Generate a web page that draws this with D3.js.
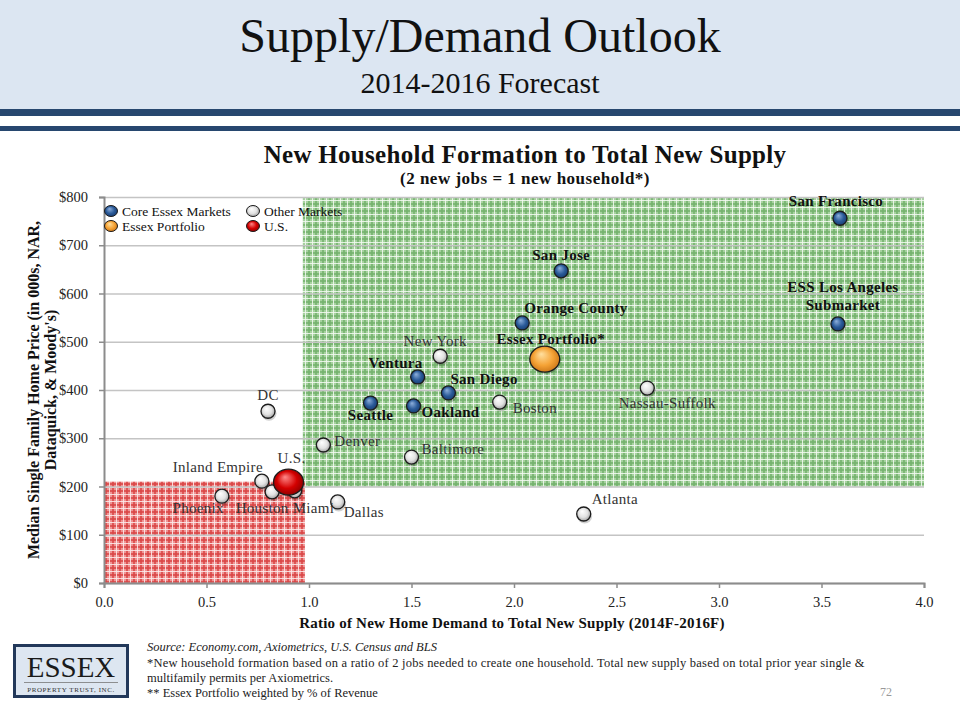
<!DOCTYPE html>
<html>
<head>
<meta charset="utf-8">
<script src="https://cdn.jsdelivr.net/npm/d3@7"></script>
<style>
  html, body { margin: 0; padding: 0; background: #ffffff; }
  svg { display: block; }
</style>
</head>
<body>
<svg id="chart" width="960" height="720"></svg>
<script>
// ---------------- DATA ----------------
const markets = ["San Francisco","San Jose","Orange County","ESS Los Angeles Submarket","Essex Portfolio*",
  "New York","Ventura","San Diego","Seattle","Oakland","Boston","Nassau-Suffolk","DC","Denver","Baltimore",
  "Inland Empire","Phoenix","Houston","Miami","Dallas","Atlanta","U.S."];
const ratio = [3.59, 2.23, 2.04, 3.58, 2.15, 1.64, 1.53, 1.68, 1.30, 1.51, 1.93, 2.65, 0.80, 1.07, 1.50,
  0.77, 0.575, 0.82, 0.93, 1.14, 2.34, 0.90];
const price = [756, 647, 539, 537, 464, 470, 427, 394, 373, 367, 375, 404, 356, 286, 261,
  211, 180, 189, 191, 168, 143, 209];
const group = ["core","core","core","core","portfolio","other","core","core","core","core","other","other",
  "other","other","other","other","other","other","other","other","other","us"];
const yTicks = [0,100,200,300,400,500,600,700,800];
const xTicks = [0,0.5,1,1.5,2,2.5,3,3.5,4];
const legendItems = [["core","Core Essex Markets"],["other","Other Markets"],["portfolio","Essex Portfolio"],["us","U.S."]];
// shaded zones: [x0, x1, y0, y1] in data units
const greenZone = [0.97, 4.0, 200, 800];
const redZone = [0, 0.98, 0, 210];

// ---------------- LAYOUT (label placement, px offsets from point) ----------------
const labelLayout = {
  "San Francisco": {dx:-4, dy:-12, a:"middle"},
  "San Jose": {dx:0, dy:-11, a:"middle"},
  "Orange County": {dx:2, dy:-10, a:"start"},
  "ESS Los Angeles Submarket": {dx:5, dy:-32, a:"middle", lines:["ESS Los Angeles","Submarket"]},
  "Essex Portfolio*": {dx:6, dy:-15, a:"middle"},
  "New York": {dx:-5, dy:-10, a:"middle"},
  "Ventura": {dx:5, dy:-9, a:"end"},
  "San Diego": {dx:2, dy:-9, a:"start"},
  "Seattle": {dx:0, dy:17, a:"middle"},
  "Oakland": {dx:8, dy:11, a:"start"},
  "Boston": {dx:13, dy:11, a:"start"},
  "Nassau-Suffolk": {dx:20, dy:20, a:"middle"},
  "DC": {dx:0, dy:-11, a:"middle"},
  "Denver": {dx:11, dy:1, a:"start"},
  "Baltimore": {dx:10, dy:-3, a:"start"},
  "Inland Empire": {dx:1, dy:-9, a:"end"},
  "Phoenix": {dx:2, dy:17, a:"end"},
  "Houston": {dx:-10, dy:21, a:"middle"},
  "Miami": {dx:-2, dy:22, a:"start"},
  "Dallas": {dx:6, dy:15, a:"start"},
  "Atlanta": {dx:8, dy:-10, a:"start"},
  "U.S.": {dx:3, dy:-19, a:"middle"}
};

const serif = "'Liberation Serif', 'DejaVu Serif', serif";
const svg = d3.select("#chart");
const defs = svg.append("defs");

// ---------------- HEADER ----------------
svg.append("rect").attr("x",0).attr("y",0).attr("width",960).attr("height",109).attr("fill","#dce6f2");
svg.append("rect").attr("x",0).attr("y",109).attr("width",960).attr("height",7).attr("fill","#27476f");
svg.append("rect").attr("x",0).attr("y",126).attr("width",960).attr("height",5).attr("fill","#27476f");
svg.append("text").attr("x",480).attr("y",52).attr("text-anchor","middle")
  .attr("font-family",serif).attr("font-size",48).attr("fill","#111").text("Supply/Demand Outlook");
svg.append("text").attr("x",480).attr("y",93).attr("text-anchor","middle")
  .attr("font-family",serif).attr("font-size",30).attr("fill","#111").text("2014-2016 Forecast");

// Chart titles
svg.append("text").attr("x",525).attr("y",163).attr("text-anchor","middle")
  .attr("font-family",serif).attr("font-weight","bold").attr("font-size",25).attr("letter-spacing",0.3).attr("fill","#111")
  .text("New Household Formation to Total New Supply");
svg.append("text").attr("x",525).attr("y",184).attr("text-anchor","middle")
  .attr("font-family",serif).attr("font-weight","bold").attr("font-size",17).attr("letter-spacing",0.5).attr("fill","#111")
  .text("(2 new jobs = 1 new household*)");

// ---------------- SCALES ----------------
const x = d3.scaleLinear().domain([0,4]).range([104,924]);
const y = d3.scaleLinear().domain([0,800]).range([583,197]);

// ---------------- PATTERNS ----------------
function plaid(id, base, dark, light) {
  const p = defs.append("pattern").attr("id",id).attr("patternUnits","userSpaceOnUse")
    .attr("width",7).attr("height",7);
  p.append("rect").attr("width",7).attr("height",7).attr("fill",base);
  p.append("rect").attr("x",0).attr("y",0).attr("width",2).attr("height",7).attr("fill",dark).attr("opacity",0.8);
  p.append("rect").attr("x",0).attr("y",0).attr("width",7).attr("height",2).attr("fill",dark).attr("opacity",0.8);
  p.append("rect").attr("x",4).attr("y",0).attr("width",1).attr("height",7).attr("fill",light).attr("opacity",0.85);
  p.append("rect").attr("x",0).attr("y",4).attr("width",7).attr("height",1).attr("fill",light).attr("opacity",0.85);
}
plaid("greenPlaid", "#a6d29f", "#74b26d", "#f4faf2");
plaid("redPlaid", "#ef9494", "#d94646", "#fcecec");

// Gradients for markers
const grads = {
  core: ["#8fb0dc","#2a5a98","#123467"],
  other: ["#ffffff","#e2e2e2","#8e8e8e"],
  portfolio: ["#ffe0a0","#f5a336","#c06a10"],
  us: ["#ff8a8a","#d40000","#7a0000"]
};
Object.entries(grads).forEach(([k,c]) => {
  const g = defs.append("radialGradient").attr("id","g_"+k).attr("cx","50%").attr("cy","50%").attr("r","60%")
    .attr("fx","38%").attr("fy","30%");
  g.append("stop").attr("offset","0%").attr("stop-color",c[0]);
  g.append("stop").attr("offset","55%").attr("stop-color",c[1]);
  g.append("stop").attr("offset","100%").attr("stop-color",c[2]);
});

// ---------------- ZONES ----------------
svg.append("rect").attr("x",x(greenZone[0])).attr("y",y(greenZone[3]))
  .attr("width",x(greenZone[1])-x(greenZone[0])).attr("height",y(greenZone[2])-y(greenZone[3]))
  .attr("fill","url(#greenPlaid)");
svg.append("rect").attr("x",x(redZone[0])).attr("y",y(redZone[3]))
  .attr("width",x(redZone[1])-x(redZone[0])).attr("height",y(redZone[2])-y(redZone[3]))
  .attr("fill","url(#redPlaid)");

// ---------------- GRIDLINES & AXES ----------------
const grid = svg.append("g").attr("transform",`translate(${x(0)},0)`)
  .call(d3.axisLeft(y).tickValues(yTicks).tickSize(-(x(4)-x(0))).tickFormat(""));
grid.select(".domain").remove();
grid.selectAll("line").attr("stroke","#c4c4c4").attr("stroke-width",1.5);

const yAxis = svg.append("g").attr("transform",`translate(${x(0)},0)`)
  .call(d3.axisLeft(y).tickValues(yTicks).tickSize(5).tickPadding(11).tickFormat(d => "$" + d));
yAxis.select(".domain").attr("stroke","#8c8c8c").attr("stroke-width",2);
yAxis.selectAll("line").attr("stroke","#8c8c8c").attr("stroke-width",1.5);
yAxis.selectAll("text").attr("font-family",serif).attr("font-size",14.5).attr("fill","#222");

const xAxis = svg.append("g").attr("transform",`translate(0,${y(0)})`)
  .call(d3.axisBottom(x).tickValues(xTicks).tickSize(5).tickPadding(9).tickFormat(d3.format(".1f")));
xAxis.select(".domain").attr("stroke","#8c8c8c").attr("stroke-width",2);
xAxis.selectAll("line").attr("stroke","#8c8c8c").attr("stroke-width",1.5);
xAxis.selectAll("text").attr("font-family",serif).attr("font-size",14.5).attr("fill","#222");

// Axis titles
svg.append("text").attr("x",512).attr("y",628).attr("text-anchor","middle")
  .attr("font-family",serif).attr("font-weight","bold").attr("font-size",15).attr("letter-spacing",0.2).attr("fill","#111")
  .text("Ratio of New Home Demand to Total New Supply (2014F-2016F)");
const yt = svg.append("text").attr("transform","translate(39,390) rotate(-90)").attr("text-anchor","middle")
  .attr("font-family",serif).attr("font-weight","bold").attr("font-size",16).attr("fill","#111");
yt.append("tspan").attr("x",0).attr("y",0).text("Median Single Family Home Price (in 000s, NAR,");
yt.append("tspan").attr("x",0).attr("y",17).text("Dataquick, & Moody's)");

// ---------------- POINTS ----------------
const pts = markets.map((m,i) => ({name:m, rx:ratio[i], p:price[i], g:group[i]}));
const big = g => g === "portfolio" || g === "us";
const order = pts.slice().sort((a,b) => (big(a.g)?1:0) - (big(b.g)?1:0));

svg.append("g").selectAll("ellipse").data(order).join("ellipse")
  .attr("cx", d => x(d.rx)+1).attr("cy", d => y(d.p)+2)
  .attr("rx", d => big(d.g) ? 15 : 7.5).attr("ry", d => big(d.g) ? 13 : 7.5)
  .attr("fill","#000").attr("opacity",0.18);
svg.append("g").selectAll("ellipse").data(order).join("ellipse")
  .attr("cx", d => x(d.rx)).attr("cy", d => y(d.p))
  .attr("rx", d => big(d.g) ? 15 : 7).attr("ry", d => big(d.g) ? 13 : 7)
  .attr("fill", d => `url(#g_${d.g})`).attr("stroke","#1c1c1c").attr("stroke-width",1.3);

// ---------------- LABELS ----------------
const labG = svg.append("g").attr("font-family",serif).attr("font-size",15).attr("fill","#111");
pts.forEach(d => {
  const L = labelLayout[d.name];
  const bold = d.g === "core" || d.g === "portfolio";
  const t = labG.append("text").attr("text-anchor",L.a)
    .attr("font-weight", bold ? "bold" : "normal")
    .attr("letter-spacing", 0.3)
    .attr("fill", bold ? "#111" : "#333");
  const lines = L.lines || [d.name];
  lines.forEach((ln,k) => {
    t.append("tspan").attr("x", x(d.rx)+L.dx).attr("y", y(d.p)+L.dy + k*18).text(ln);
  });
});

// ---------------- LEGEND ----------------
const lg = svg.append("g").attr("font-family",serif).attr("font-size",13.5).attr("fill","#111");
legendItems.forEach(([k,label],i) => {
  const col = i % 2, row = Math.floor(i/2);
  const lx = 111 + col*142, ly = 211 + row*15;
  lg.append("ellipse").attr("cx",lx).attr("cy",ly).attr("rx",6.5).attr("ry",5.5)
    .attr("fill",`url(#g_${k})`).attr("stroke","#1c1c1c").attr("stroke-width",1);
  lg.append("text").attr("x",lx+11).attr("y",ly+4.5).text(label);
});

// ---------------- FOOTER ----------------
svg.append("rect").attr("x",14.5).attr("y",645.5).attr("width",113).attr("height",51)
  .attr("fill","#dde6f1").attr("stroke","#22385a").attr("stroke-width",3);
svg.append("text").attr("x",71).attr("y",677).attr("text-anchor","middle")
  .attr("font-family",serif).attr("font-size",29).attr("fill","#1a1a1a").text("ESSEX");
svg.append("line").attr("x1",24).attr("x2",118).attr("y1",682.5).attr("y2",682.5)
  .attr("stroke","#777").attr("stroke-width",0.8);
svg.append("text").attr("x",71).attr("y",692).attr("text-anchor","middle")
  .attr("font-family",serif).attr("font-size",7).attr("letter-spacing",0.6).attr("fill","#333")
  .text("PROPERTY TRUST, INC.");

const ft = svg.append("g").attr("font-family",serif).attr("font-size",12.5).attr("fill","#222");
ft.append("text").attr("x",147).attr("y",651).attr("font-style","italic")
  .text("Source: Economy.com, Axiometrics, U.S. Census and BLS");
ft.append("text").attr("x",147).attr("y",667).attr("letter-spacing",0.22)
  .text("*New household formation based on a ratio of 2 jobs needed to create one household.  Total new supply based on total prior year single &");
ft.append("text").attr("x",147).attr("y",682).text("multifamily permits per Axiometrics.");
ft.append("text").attr("x",147).attr("y",697).text("** Essex Portfolio weighted by % of Revenue");
svg.append("text").attr("x",880).attr("y",696).attr("font-family",serif).attr("font-size",12)
  .attr("fill","#999").text("72");
</script>
</body>
</html>
